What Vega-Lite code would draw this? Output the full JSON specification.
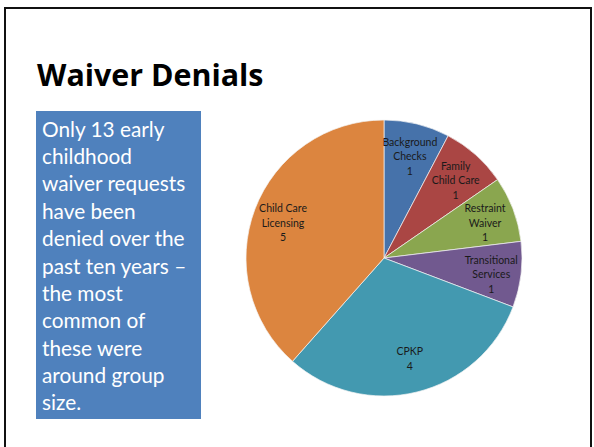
{
  "$schema": "https://vega.github.io/schema/vega-lite/v6.json",
  "width": 594,
  "height": 447,
  "padding": 0,
  "autosize": {"type": "none"},
  "background": "#ffffff",
  "config": {"view": {"stroke": null}},
  "datasets": {
    "denials": [
      {"category": "Background Checks", "label": "Background\nChecks\n1", "count": 1, "idx": 1},
      {"category": "Family Child Care", "label": "Family\nChild Care\n1", "count": 1, "idx": 2},
      {"category": "Restraint Waiver", "label": "Restraint\nWaiver\n1", "count": 1, "idx": 3},
      {"category": "Transitional Services", "label": "Transitional\nServices\n1", "count": 1, "idx": 4},
      {"category": "CPKP", "label": "CPKP\n4", "count": 4, "idx": 5},
      {"category": "Child Care Licensing", "label": "Child Care\nLicensing\n5", "count": 5, "idx": 6}
    ]
  },
  "layer": [
    {
      "data": {"values": [{}]},
      "mark": {"type": "rect", "x": 5, "y": 8, "x2": 591, "y2": 480, "fill": "transparent", "stroke": "#111111", "strokeWidth": 2, "clip": true},
      "encoding": {}
    },
    {
      "data": {"values": [{}]},
      "mark": {"type": "text", "x": 37, "y": 86, "text": "Waiver Denials", "align": "left", "baseline": "alphabetic", "font": "Open Sans", "fontWeight": "bold", "fontSize": 30.4, "fill": "#000000"},
      "encoding": {}
    },
    {
      "data": {"values": [{}]},
      "mark": {"type": "rect", "x": 36, "y": 111, "x2": 201, "y2": 419, "fill": "#4F81BD"},
      "encoding": {}
    },
    {
      "data": {"values": [{}]},
      "mark": {"type": "text", "x": 42, "y": 136.5, "align": "left", "baseline": "alphabetic", "font": "Lato", "fontSize": 20.8, "lineHeight": 27.4, "fill": "#ffffff",
        "text": ["Only 13 early", "childhood", "waiver requests", "have been", "denied over the", "past ten years –", "the most", "common of", "these were", "around group", "size."]},
      "encoding": {}
    },
    {
      "data": {"name": "denials"},
      "mark": {"type": "arc", "x": 384, "y": 258, "outerRadius": 138, "stroke": "#f4f4f4", "strokeWidth": 0.7},
      "encoding": {
        "theta": {"field": "count", "type": "quantitative", "stack": true},
        "order": {"field": "idx", "type": "quantitative"},
        "color": {"field": "category", "type": "nominal", "legend": null,
          "scale": {"domain": ["Background Checks", "Family Child Care", "Restraint Waiver", "Transitional Services", "CPKP", "Child Care Licensing"],
                    "range": ["#4672AA", "#AA4644", "#8AA64F", "#71598F", "#4399B0", "#DC853F"]}}
      }
    },
    {
      "data": {"name": "denials"},
      "mark": {"type": "text", "x": 384, "y": 258, "radius": 108, "lineBreak": "\n", "baseline": "middle", "dy": -10.5, "align": "center", "font": "Lato", "fontSize": 10.5, "lineHeight": 14.5, "fill": "#1a1a1a"},
      "encoding": {
        "theta": {"field": "count", "type": "quantitative", "stack": true},
        "order": {"field": "idx", "type": "quantitative"},
        "text": {"field": "label", "type": "nominal"}
      }
    }
  ]
}
